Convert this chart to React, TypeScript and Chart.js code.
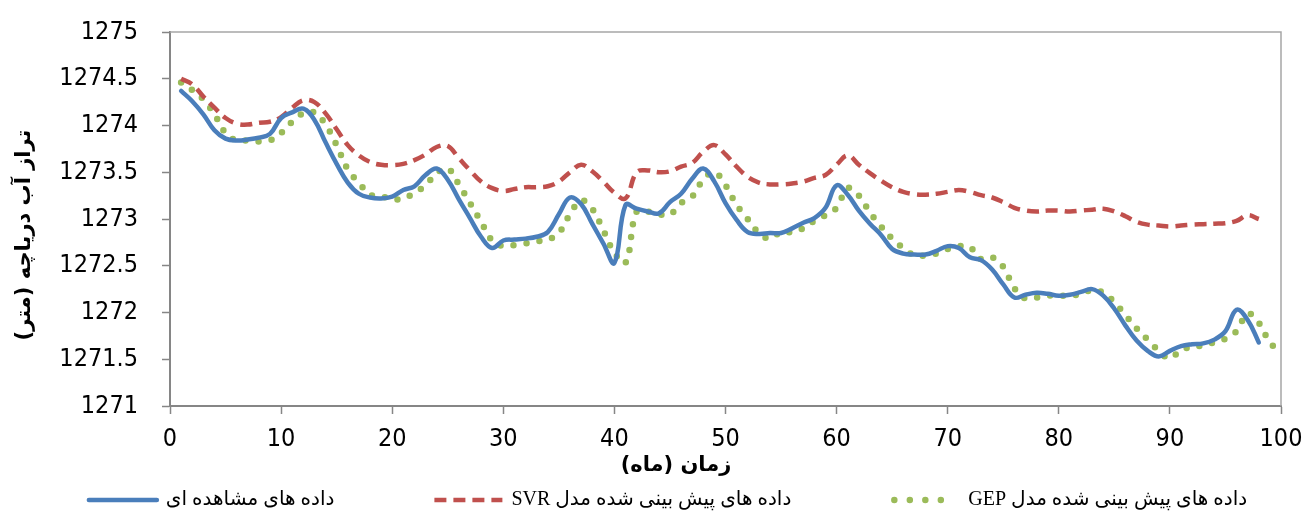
import React, { useEffect, useRef } from 'react';
import { Chart, registerables } from 'chart.js';

Chart.register(...registerables);

// ---------- data ----------
const monthsObserved = [
  1, 2, 3, 4, 5, 6, 7, 8, 9, 10, 11, 12, 13, 14, 15, 16, 17, 18, 19, 20,
  21, 22, 23, 24, 25, 26, 27, 28, 29, 30, 31, 32, 33, 34, 35, 36, 37, 38, 39, 40,
  41, 42, 43, 44, 45, 46, 47, 48, 49, 50, 51, 52, 53, 54, 55, 56, 57, 58, 59, 60,
  61, 62, 63, 64, 65, 66, 67, 68, 69, 70, 71, 72, 73, 74, 75, 76, 77, 78, 79, 80,
  81, 82, 83, 84, 85, 86, 87, 88, 89, 90, 91, 92, 93, 94, 95, 96, 97, 98,
];
const monthsGep = [
  1, 2, 3, 4, 5, 6, 7, 8, 9, 10, 11, 12, 13, 14, 15, 16, 17, 18, 19, 20,
  21, 22, 23, 24, 25, 26, 27, 28, 29, 30, 31, 32, 33, 34, 35, 36, 37, 38, 39, 40,
  41, 42, 43, 44, 45, 46, 47, 48, 49, 50, 51, 52, 53, 54, 55, 56, 57, 58, 59, 60,
  61, 62, 63, 64, 65, 66, 67, 68, 69, 70, 71, 72, 73, 74, 75, 76, 77, 78, 79, 80,
  81, 82, 83, 84, 85, 86, 87, 88, 89, 90, 91, 92, 93, 94, 95, 96, 97, 98, 99, 100,
];

const observed = [
  1274.37, 1274.26, 1274.12, 1273.95, 1273.86, 1273.84, 1273.85, 1273.87, 1273.91, 1274.08,
  1274.14, 1274.18, 1274.06, 1273.82, 1273.59, 1273.39, 1273.27, 1273.23, 1273.22, 1273.24,
  1273.31, 1273.35, 1273.47, 1273.54, 1273.42, 1273.21, 1273.01, 1272.81, 1272.69, 1272.77,
  1272.78, 1272.79, 1272.81, 1272.86, 1273.05, 1273.23, 1273.16, 1272.95, 1272.74, 1272.53,
  1273.15, 1273.11, 1273.08, 1273.06, 1273.18, 1273.27, 1273.43, 1273.54, 1273.40, 1273.17,
  1272.99, 1272.86, 1272.84, 1272.85, 1272.85, 1272.90, 1272.96, 1273.01, 1273.12, 1273.36,
  1273.26, 1273.09, 1272.95, 1272.83, 1272.68, 1272.63, 1272.62, 1272.62, 1272.66, 1272.71,
  1272.69, 1272.59, 1272.56, 1272.46, 1272.30, 1272.16, 1272.19, 1272.21, 1272.20, 1272.18,
  1272.19, 1272.22, 1272.25, 1272.18, 1272.04, 1271.86, 1271.70, 1271.59, 1271.53, 1271.59,
  1271.64, 1271.66, 1271.67, 1271.71, 1271.80, 1272.03, 1271.92, 1271.68,
];

const svr = [
  1274.50, 1274.44, 1274.31, 1274.19, 1274.08, 1274.02, 1274.01, 1274.03, 1274.04, 1274.09,
  1274.19, 1274.27, 1274.25, 1274.13, 1273.96, 1273.79, 1273.68, 1273.61, 1273.58, 1273.575,
  1273.59, 1273.63, 1273.69, 1273.77, 1273.78, 1273.65, 1273.52, 1273.40, 1273.33, 1273.30,
  1273.32, 1273.34, 1273.34, 1273.35, 1273.40, 1273.50, 1273.58, 1273.51, 1273.40, 1273.28,
  1273.22, 1273.50, 1273.52, 1273.50, 1273.51, 1273.56, 1273.60, 1273.72, 1273.79, 1273.69,
  1273.56, 1273.45, 1273.39, 1273.37, 1273.37, 1273.38, 1273.40, 1273.44, 1273.47, 1273.58,
  1273.68, 1273.58, 1273.49, 1273.41, 1273.34, 1273.29, 1273.265, 1273.26, 1273.27, 1273.29,
  1273.31, 1273.29, 1273.255, 1273.23, 1273.18, 1273.12, 1273.09, 1273.08, 1273.09, 1273.09,
  1273.08, 1273.09, 1273.10, 1273.11, 1273.08, 1273.03, 1272.97, 1272.94, 1272.93, 1272.92,
  1272.93, 1272.94, 1272.945, 1272.95, 1272.955, 1272.98, 1273.04, 1273.00,
];

const gep = [
  1274.46, 1274.38, 1274.28, 1274.12, 1273.92, 1273.84, 1273.84, 1273.83, 1273.84, 1273.92,
  1274.04, 1274.13, 1274.14, 1274.01, 1273.79, 1273.53, 1273.39, 1273.26, 1273.245, 1273.21,
  1273.22, 1273.28, 1273.36, 1273.49, 1273.54, 1273.37, 1273.17, 1272.97, 1272.77, 1272.71,
  1272.72, 1272.74, 1272.76, 1272.78, 1272.85, 1273.05, 1273.20, 1273.11, 1272.88, 1272.64,
  1272.53, 1273.08, 1273.08, 1273.05, 1273.05, 1273.17, 1273.24, 1273.42, 1273.50, 1273.36,
  1273.15, 1273.00, 1272.85, 1272.79, 1272.86, 1272.86, 1272.90, 1272.98, 1273.04, 1273.12,
  1273.33, 1273.25, 1273.07, 1272.92, 1272.79, 1272.69, 1272.61, 1272.61, 1272.63, 1272.68,
  1272.71, 1272.70, 1272.57, 1272.59, 1272.49, 1272.26, 1272.15, 1272.16, 1272.18, 1272.18,
  1272.18, 1272.20, 1272.24, 1272.21, 1272.11, 1271.97, 1271.83, 1271.71, 1271.59, 1271.51,
  1271.60, 1271.63, 1271.65, 1271.68, 1271.72, 1271.80, 1271.99, 1271.89, 1271.68, 1271.57,
];

const xTicks = [0, 10, 20, 30, 40, 50, 60, 70, 80, 90, 100];
const yTicks = [1271, 1271.5, 1272, 1272.5, 1273, 1273.5, 1274, 1274.5, 1275];

const seriesLabels = [
  'داده های مشاهده ای',
  'داده های پیش بینی شده مدل SVR',
  'داده های پیش بینی شده مدل GEP',
];
const xTitle = 'زمان (ماه)';
const yTitle = 'تراز آب دریاچه (متر)';

// ---------- styling ----------
const W = 1303;
const H = 518;
const tickFont = '"Liberation Sans Narrow", "DejaVu Sans Condensed", "Roboto", sans-serif';
const titleFont = 'bold 21px "DejaVu Sans", sans-serif';
const legendFont = '20px "Liberation Serif", "DejaVu Sans", serif';
const axisGray = '#868686';

const decorPlugin = {
  id: 'decor',
  beforeDatasetsDraw(chart: any) {
    const { ctx, chartArea: a } = chart;
    ctx.save();
    ctx.strokeStyle = '#a6a6a6';
    ctx.lineWidth = 1.5;
    ctx.beginPath();
    ctx.moveTo(a.left, a.top);
    ctx.lineTo(a.right, a.top);
    ctx.lineTo(a.right, a.bottom);
    ctx.stroke();
    ctx.restore();
  },
  afterDraw(chart: any) {
    const { ctx } = chart;
    ctx.save();
    ctx.fillStyle = '#000';
    ctx.font = titleFont;
    ctx.textAlign = 'center';
    ctx.textBaseline = 'middle';
    ctx.direction = 'rtl';
    ctx.fillText(xTitle, 676, 466);
    ctx.save();
    ctx.translate(25, 235);
    ctx.rotate(-Math.PI / 2);
    ctx.fillText(yTitle, 0, 0);
    ctx.restore();

    // legend
    ctx.font = legendFont;
    const symW = 68;
    const symGap = 9;
    const itemGap = 100;
    const widths = seriesLabels.map((t) => ctx.measureText(t).width);
    const total = widths.reduce((s, w) => s + w, 0) + 3 * (symW + symGap) + 2 * itemGap;
    let x = 668 - total / 2;
    const y = 500;
    chart.data.datasets.forEach((ds: any, i: number) => {
      ctx.save();
      ctx.strokeStyle = ds.borderColor;
      ctx.lineWidth = ds.borderWidth;
      ctx.lineCap = ds.borderCapStyle || 'butt';
      ctx.setLineDash(ds.legendDash || ds.borderDash || []);
      ctx.beginPath();
      const off = ds.legendInset || 0;
      ctx.moveTo(x + off, y);
      ctx.lineTo(x + symW - off, y);
      ctx.stroke();
      ctx.restore();
      x += symW + symGap;
      ctx.fillStyle = '#000';
      ctx.textAlign = 'left';
      ctx.textBaseline = 'middle';
      ctx.direction = 'rtl';
      ctx.fillText(seriesLabels[i], x, y);
      x += widths[i] + itemGap;
    });
    ctx.restore();
  },
};

export default function App() {
  const ref = useRef<HTMLCanvasElement | null>(null);

  useEffect(() => {
    document.body.style.margin = '0';
    const canvas = ref.current;
    if (!canvas) return;
    const chart = new Chart(canvas, {
      type: 'line',
      data: {
        datasets: [
          {
            label: seriesLabels[0],
            data: monthsObserved.map((m, i) => ({ x: m, y: observed[i] })),
            borderColor: '#4a7ebb',
            borderWidth: 4.5,
            pointRadius: 0,
            tension: 0.4,
            borderCapStyle: 'round',
            borderJoinStyle: 'round',
            fill: false,
          },
          {
            label: seriesLabels[1],
            data: monthsObserved.map((m, i) => ({ x: m, y: svr[i] })),
            borderColor: '#c0504d',
            borderWidth: 4.5,
            borderDash: [12, 7],
            pointRadius: 0,
            tension: 0.4,
            borderCapStyle: 'butt',
            fill: false,
          } as any,
          {
            label: seriesLabels[2],
            data: monthsGep.map((m, i) => ({ x: m, y: gep[i] })),
            borderColor: '#9bbb59',
            borderWidth: 6.5,
            borderDash: [0, 13],
            legendDash: [0, 15.5],
            legendInset: 3,
            pointRadius: 0,
            tension: 0.4,
            borderCapStyle: 'round',
            fill: false,
          } as any,
        ],
      },
      options: {
        responsive: false,
        animation: false,
        devicePixelRatio: 1,
        layout: { padding: { left: 0, right: 22, top: 32, bottom: 36 } },
        plugins: {
          legend: { display: false },
          tooltip: { enabled: false },
        },
        scales: {
          x: {
            type: 'linear',
            min: 0,
            max: 100,
            afterBuildTicks: (s: any) => {
              s.ticks = xTicks.map((v) => ({ value: v }));
            },
            afterFit: (s: any) => {
              s.height = 76;
              s.paddingLeft = 0;
              s.paddingRight = 0;
            },
            ticks: {
              callback: (v: any) => String(v),
              font: { family: tickFont, size: 25 },
              color: '#000',
              padding: 10,
              maxRotation: 0,
              autoSkip: false,
            },
            grid: {
              drawOnChartArea: false,
              drawTicks: true,
              tickLength: 8,
              tickColor: axisGray,
              tickWidth: 1.5,
            },
            border: { color: axisGray, width: 2 },
          },
          y: {
            type: 'linear',
            min: 1271,
            max: 1275,
            afterBuildTicks: (s: any) => {
              s.ticks = yTicks.map((v) => ({ value: v }));
            },
            afterFit: (s: any) => {
              s.width = 170;
              s.paddingTop = 0;
              s.paddingBottom = 0;
            },
            ticks: {
              callback: (v: any) => String(v),
              font: { family: tickFont, size: 25 },
              color: '#000',
              padding: 24,
            },
            grid: {
              drawOnChartArea: false,
              drawTicks: true,
              tickLength: 8,
              tickColor: axisGray,
              tickWidth: 1.5,
            },
            border: { color: axisGray, width: 2 },
          },
        },
      },
      plugins: [decorPlugin],
    } as any);
    return () => chart.destroy();
  }, []);

  return (
    <div style={{ position: 'absolute', left: 0, top: 0, width: W, height: H, background: '#fff' }}>
      <canvas ref={ref} width={W} height={H} style={{ width: W, height: H, display: 'block' }} />
    </div>
  );
}
